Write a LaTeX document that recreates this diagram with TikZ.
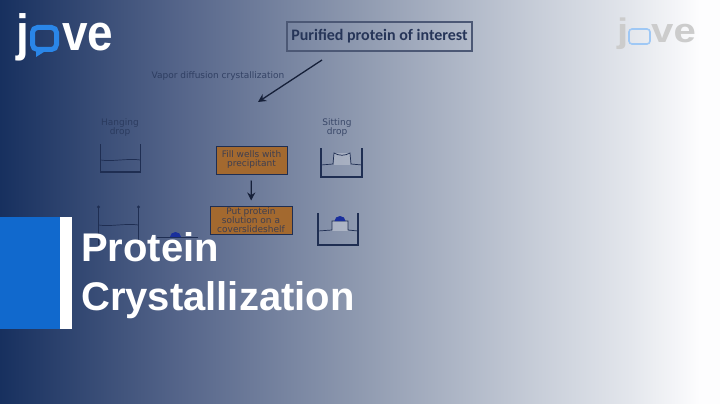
\documentclass[tikz,border=0pt]{standalone}
\usepackage{fontspec}
\usetikzlibrary{arrows.meta}
\setmainfont{Liberation Sans}
\newfontfamily\labelfont{Carlito}
\newfontfamily\boxfont{DejaVu Sans}
\definecolor{inkblue}{HTML}{263558}
\definecolor{boxorange}{HTML}{A3692F}
\definecolor{boxedge}{HTML}{1F2E52}
\definecolor{dropblue}{HTML}{1A2F9C}
\definecolor{jovesky}{HTML}{2A86E8}
\definecolor{tabblue}{HTML}{1169CD}
\definecolor{fadeA}{HTML}{17305F}
\definecolor{fadeB}{HTML}{55658A}
\definecolor{fadeC}{HTML}{8F9AB0}
\definecolor{fadeD}{HTML}{C8CED9}
\definecolor{fadeE}{HTML}{E3E6EC}
\definecolor{fadeF}{HTML}{FDFDFE}
\pgfdeclarehorizontalshading{fadeback}{100bp}{
  color(0bp)=(fadeA); color(25bp)=(fadeA); color(37.5bp)=(fadeB);
  color(50bp)=(fadeC); color(62.5bp)=(fadeD); color(68.75bp)=(fadeE);
  color(73.6bp)=(fadeF); color(75bp)=(fadeF); color(100bp)=(fadeF)}
\tikzset{
    wall/.style={draw=boxedge,line width=1.1pt},
    water/.style={draw=boxedge,line width=0.7pt},
    small/.style={text=inkblue,font=\boxfont\fontsize{9}{9}\selectfont,align=center,opacity=0.8},
    stepbox/.style={draw=boxedge,line width=1pt,fill=boxorange,inner sep=0pt,
        text=inkblue!80!boxorange,font=\boxfont\fontsize{9}{9}\selectfont,align=center},
    title/.style={text=white,anchor=base west,inner sep=0pt,font=\fontsize{40}{42}\selectfont\bfseries},
    logo/.style={anchor=base west,inner sep=0pt,xscale=0.9,font=\fontsize{51}{51}\selectfont\bfseries},
    ghost/.style={anchor=base west,inner sep=0pt,xscale=1.18,font=\fontsize{34}{34}\selectfont\bfseries,text=black!20},
    flow/.style={-{Stealth[length=8pt,width=8pt]},line width=1.3pt,draw=boxedge!70!black}
}
\begin{document}
\begin{tikzpicture}[x=1pt,y=-1pt]
    \useasboundingbox (0,0) rectangle (720,404);
    % background
    \shade[shading=fadeback] (0,0) rectangle (720,404);
    % top box and arrow
    \node[draw=boxedge!80!white,line width=1.2pt,minimum width=185pt,minimum height=29pt,inner sep=0pt,
        text=inkblue,font=\labelfont\bfseries\fontsize{16}{16}\selectfont] (purified) at (379.5,36.5) {Purified protein of interest};
    \node[small] (vapor) at (218,76) {Vapor diffusion crystallization};
    \coordinate (vaporstart) at (322,60);
    \coordinate (vaporend) at (258,102);
    \draw[flow] (vaporstart) -- (vaporend);
    % orange boxes
    \node[stepbox,minimum width=71pt,minimum height=28pt] (fill) at (251.5,160) {Fill wells with\\precipitant};
    \node[stepbox,minimum width=82pt,minimum height=28pt] (put) at (251,220) {Put protein\\solution on a\\coverslideshelf};
    \draw[flow,shorten <=6pt,shorten >=5pt] (fill) -- (put);
    % labels over the wells
    \node[small] (hanging) at (120,128) {Hanging\\drop};
    \node[small] (sitting) at (337,128) {Sitting\\drop};
    % hanging wells
    \draw[wall] (100.5,144) -- (100.5,172) -- (140.5,172) -- (140.5,144);
    \draw[water] (100.5,160) .. controls (112,162) and (128,158) .. (140.5,160);
    \draw[wall] (98.5,207) -- (98.5,245);
    \draw[wall] (138.5,207) -- (138.5,245);
    \fill[boxedge] (98.5,207) circle (1.6) (138.5,207) circle (1.6);
    \draw[water] (98.5,225) .. controls (110,227) and (126,223) .. (138.5,225);
    % drop on its cover slide
    \draw[water] (157,237) -- (198,237);
    \fill[dropblue] (170,237) arc (180:360:5.5 and 5) -- cycle;
    % sitting wells
    \draw[wall] (321,148) -- (321,177) -- (362,177) -- (362,148);
    \fill[white,opacity=0.25] (334,153) rectangle (350,165);
    \draw[water] (321,165) -- (333,164) -- (334,153) .. controls (339,156) and (345,156) .. (350,153) -- (351,164) -- (362,165);
    \draw[wall] (318,213) -- (318,245) -- (358,245) -- (358,213);
    \fill[white,opacity=0.3] (332,221) rectangle (348,231);
    \draw[water] (318,231) -- (332,230) -- (332,221) -- (348,221) -- (348,230) -- (358,231);
    \fill[dropblue] (334.5,221) arc (180:360:5.5 and 5) -- cycle;
    % title block
    \fill[tabblue] (0,217) rectangle (60,329);
    \fill[white] (60,217) rectangle (72,329);
    \node[title] (protein) at (81,261) {Protein};
    \node[title] (crystal) at (81,310) {Crystallization};
    % logo
    \node[logo,text=white] (jletter) at (16,51) {j};
    \draw[jovesky,line width=5pt,rounded corners=5pt] (32.5,27.5) rectangle (56.5,49.5);
    \fill[jovesky] (36,49) -- (36,57) -- (47,50) -- cycle;
    \node[logo,text=white] (veletter) at (62,51) {ve};
    % faint logo
    \node[ghost] (jghost) at (617,43) {j};
    \draw[jovesky!45!white,line width=1.6pt,rounded corners=3pt] (629,29) rectangle (650,44);
    \node[ghost] (veghost) at (651,43) {ve};
\end{tikzpicture}
\end{document}
